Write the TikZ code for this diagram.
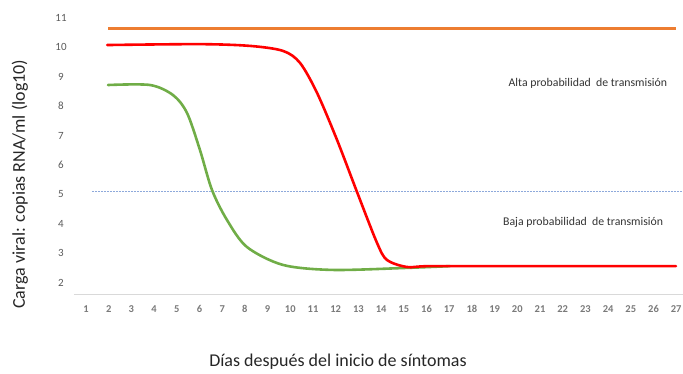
\documentclass[tikz,border=0pt]{standalone}
\usepackage{fontspec}
\setmainfont{Carlito}
\usetikzlibrary{positioning}
\definecolor{lineorange}{HTML}{ED7D31}
\definecolor{linegreen}{HTML}{70AD47}
\definecolor{limitblue}{HTML}{8EA9DB}
\definecolor{axisgray}{HTML}{D9D9D9}
\definecolor{ticktext}{HTML}{595959}
\begin{document}
\begin{tikzpicture}[
loadcurve/.style={line width=2.6pt, line cap=round, smooth},
yticklabel/.style={font=\fontsize{11}{13}\selectfont, text=ticktext, inner sep=0pt},
xticklabel/.style={font=\fontsize{10.5}{12}\selectfont\bfseries, text=ticktext!80, inner sep=0pt},
zonelabel/.style={font=\fontsize{11.8}{14}\selectfont, text=black!80, inner sep=0pt},
axistitle/.style={font=\fontsize{18}{21}\selectfont, text=black!85, inner sep=0pt},
]
\useasboundingbox (0,0) rectangle (683pt,374pt);
\begin{scope}[shift={(63.3pt,33.2pt)}, x=22.7pt, y=29.4pt]
%Axis
\coordinate (axisL) at (0.47,1.59);
\coordinate (axisR) at (27.3,1.59);
\draw[axisgray, line width=1pt] (axisL) -- (axisR);
\foreach \d in {1,...,27}
  \node[xticklabel] (x\d) at (\d,1.08) {\d};
\foreach \v in {2,...,11}
  \node[yticklabel] (y\v) at (-0.10,\v-0.02) {\v};

%Threshold
\coordinate (limL) at (1.26,5.095);
\coordinate (limR) at (27.3,5.095);
\draw[limitblue, line width=0.5pt, densely dotted] (limL) -- (limR);

%Curves
\coordinate (topL) at (1.97,10.63);
\coordinate (topR) at (26.99,10.63);
\draw[lineorange, line width=2.6pt] (topL) -- (topR);
\draw[linegreen, loadcurve] plot coordinates {(1.97,8.70) (3.82,8.70) (4.83,8.36) (5.45,7.75) (6.02,6.49) (6.55,5.13) (7.21,4.11) (8.09,3.19) (9.68,2.58) (11.88,2.41) (15.14,2.48) (17.03,2.54)};
\draw[red, loadcurve] plot coordinates {(1.93,10.06) (6.02,10.09) (8.23,10.03) (9.68,9.86) (10.43,9.45) (11.18,8.43) (12.06,6.83) (12.94,5.06) (13.82,3.33) (14.26,2.75) (15.14,2.51) (16.15,2.54) (20,2.54) (26.99,2.54)};

%Labels
\node[zonelabel] (alta) at (23.11,8.74) {Alta probabilidad~ de transmisión};
\node[zonelabel] (baja) at (22.90,4.04) {Baja probabilidad~ de transmisión};
\node[axistitle, rotate=90] (ytitle) at (-1.91,5.33) {Carga viral: copias RNA/ml (log10)};
\node[axistitle] (xtitle) at (12.1,-0.72) {Días después del inicio de síntomas};
\end{scope}
\end{tikzpicture}
\end{document}
